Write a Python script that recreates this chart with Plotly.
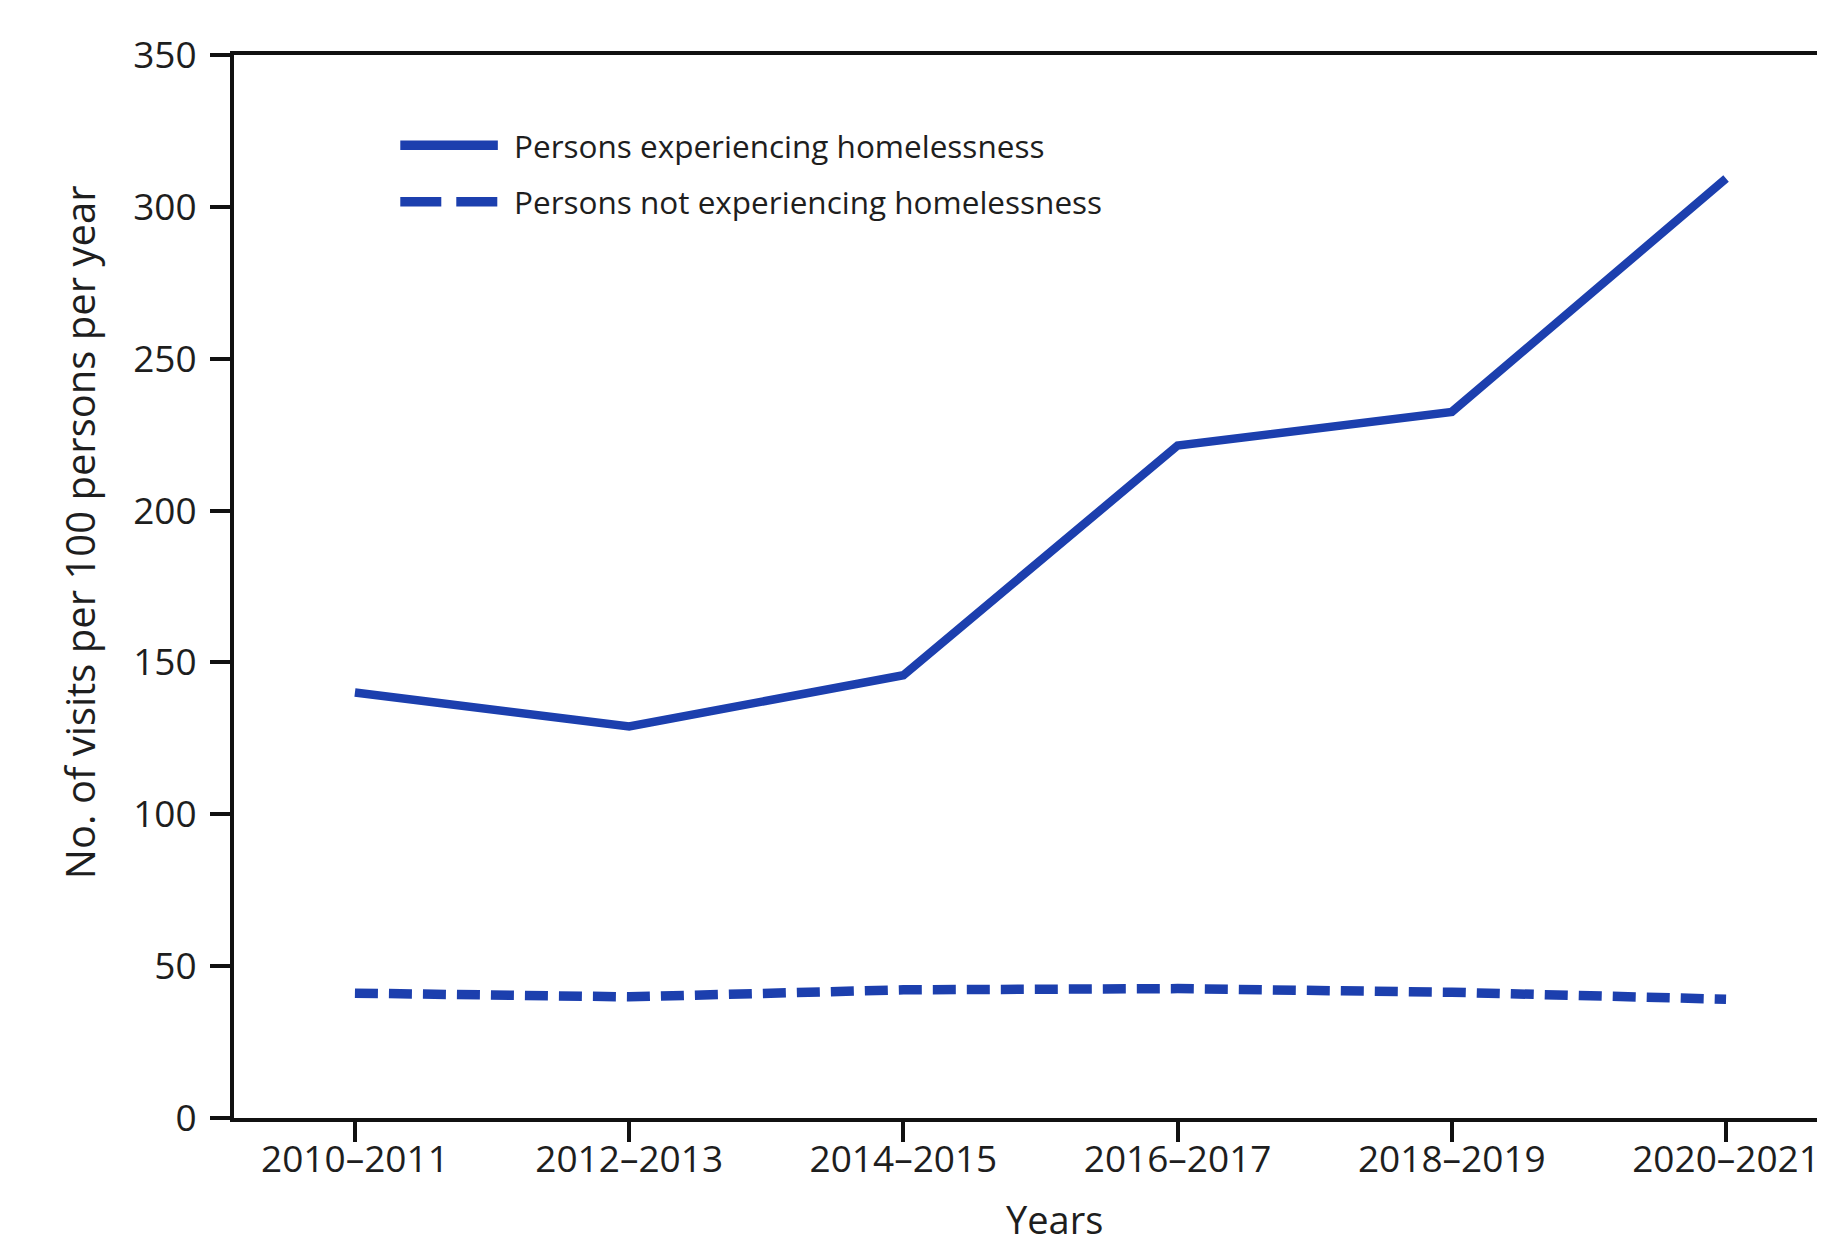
import plotly.graph_objects as go

periods = ["2010–2011", "2012–2013", "2014–2015", "2016–2017", "2018–2019", "2020–2021"]
homeless = [140.1, 128.9, 145.8, 221.4, 232.5, 309.3]
not_homeless = [41.1, 39.9, 42.2, 42.6, 41.4, 39.1]
name_homeless = "Persons experiencing homelessness"
name_not = "Persons not experiencing homelessness"
y_ticks = [0, 50, 100, 150, 200, 250, 300, 350]

BLUE = "#1c3fae"
FONT = "Open Sans"
TXT = "#1e1e1e"

fig = go.Figure()
fig.add_trace(go.Scatter(x=list(range(len(periods))), y=homeless, mode="lines",
                         name=name_homeless, line=dict(color=BLUE, width=8.5),
                         showlegend=False))
fig.add_trace(go.Scatter(x=list(range(len(periods))), y=not_homeless, mode="lines",
                         name=name_not, line=dict(color=BLUE, width=9.5, dash="23px,11px"),
                         showlegend=False))

# manual legend (long line samples as in the reference)
legend_items = [(name_homeless, "solid", 0.915), (name_not, "41px,15px", 0.862)]
for label, dash, yy in legend_items:
    fig.add_shape(type="line", xref="paper", yref="paper", x0=0.104, x1=0.165, y0=yy, y1=yy,
                  line=dict(color=BLUE, width=9.5, dash=dash))
    fig.add_annotation(xref="paper", yref="paper", x=0.174, y=yy, text=label,
                       showarrow=False, xanchor="left", yanchor="middle",
                       font=dict(family=FONT, size=31.5, color=TXT))

fig.add_annotation(xref="paper", yref="paper", x=0.513, y=-0.121, text="Years",
                   showarrow=False, xanchor="center", yanchor="bottom",
                   font=dict(family=FONT, size=38, color=TXT))

fig.add_annotation(xref="paper", yref="paper", x=-0.097, y=0.551, textangle=-90,
                   text="No. of visits per 100 persons per year",
                   showarrow=False, xanchor="center", yanchor="middle",
                   font=dict(family=FONT, size=40, color=TXT))

fig.update_layout(
    width=1825, height=1245,
    margin=dict(l=226, r=0, t=47, b=135),
    paper_bgcolor="white", plot_bgcolor="white",
    font=dict(family=FONT, color=TXT),
    xaxis=dict(tickmode="array", tickvals=list(range(len(periods))), ticktext=periods,
               range=[-0.441, 5.390], showline=True, mirror=True, linecolor="#111", linewidth=4,
               ticks="outside", ticklen=20, tickwidth=3.5, tickcolor="#111",
               ticklabeloverflow="allow", ticklabelstandoff=-14,
               showgrid=False, zeroline=False, tickfont=dict(family=FONT, size=37, color=TXT)),
    yaxis=dict(tickmode="array", tickvals=y_ticks, range=[0, 350],
               showline=True, linecolor="#111", linewidth=4,
               ticks="outside", ticklen=20, tickwidth=3.5, tickcolor="#111",
               ticklabelstandoff=6,
               showgrid=False, zeroline=False, tickfont=dict(family=FONT, size=37, color=TXT)),
)

fig.write_html("out.html")
